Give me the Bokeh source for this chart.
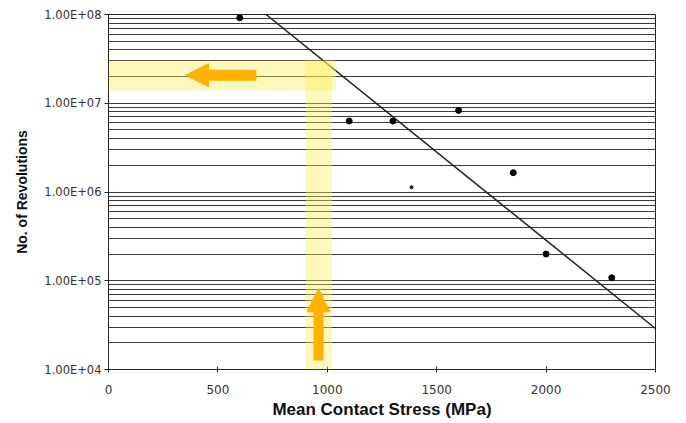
from bokeh.plotting import figure
from bokeh.models import FixedTicker, BoxAnnotation, Arrow, NormalHead, Range1d
from bokeh.embed import file_html
from bokeh.resources import INLINE

# ---- data ----
stress = [600, 1100, 1300, 1385, 1600, 1850, 2000, 2300]
revolutions = [9.2e7, 6.3e6, 6.3e6, 1.13e6, 8.3e6, 1.65e6, 2.0e5, 1.08e5]

fit_stress = [720, 2500]
fit_revs = [1.0e8, 2.9e4]

x_ticks = [0, 500, 1000, 1500, 2000, 2500]
y_ticks = [1e4, 1e5, 1e6, 1e7, 1e8]
y_tick_labels = ["1.00E+04", "1.00E+05", "1.00E+06", "1.00E+07", "1.00E+08"]
y_minor = [m * 10 ** e for e in range(4, 8) for m in range(2, 10)]

# highlight bands (x range, y range)
h_band_x = [0, 1040]
h_band_y = [1.4e7, 3.04e7]
v_band_x = [900, 1022]
v_band_y = [1e4, 3.04e7]

# arrows (start -> end)
left_arrow_x = [676, 352]
left_arrow_y = [2.07e7, 2.07e7]
up_arrow_x = [960, 960]
up_arrow_y = [1.26e4, 8.1e4]

FONT = "Liberation Sans"
TICK_FONT = "DejaVu Sans"

p = figure(width=686, height=423, y_axis_type="log",
           x_range=Range1d(0, 2500), y_range=Range1d(1e4, 1e8),
           output_backend="svg", toolbar_location=None,
           min_border_left=108, min_border_right=31,
           min_border_top=14, min_border_bottom=54)
p.background_fill_color = "white"
p.border_fill_color = "white"
p.outline_line_color = "#222222"
p.outline_line_width = 1

# grid
p.xgrid.grid_line_color = None
p.ygrid.grid_line_color = "#3a3a3a"
p.ygrid.grid_line_width = 1
p.ygrid.minor_grid_line_color = "#3a3a3a"
p.ygrid.minor_grid_line_width = 1

# axes
p.xaxis.ticker = FixedTicker(ticks=x_ticks)
p.yaxis.ticker = FixedTicker(ticks=y_ticks, minor_ticks=y_minor)
p.ygrid.ticker = p.yaxis.ticker
p.yaxis.major_label_overrides = {t: l for t, l in zip(y_ticks, y_tick_labels)}

for ax in (p.xaxis, p.yaxis):
    ax.axis_line_color = "#222222"
    ax.major_tick_line_color = "#222222"
    ax.minor_tick_line_color = None
    ax.major_label_text_font = TICK_FONT
    ax.major_label_text_color = "#333333"
    ax.axis_label_text_font = FONT
    ax.axis_label_text_font_style = "bold"
    ax.axis_label_text_color = "#111111"

p.xaxis.major_label_text_font_size = "12px"
p.yaxis.major_label_text_font_size = "11.5px"
p.xaxis.axis_label_text_font_size = "17px"
p.yaxis.axis_label_text_font_size = "14px"

p.xaxis.major_tick_in = 3
p.xaxis.major_tick_out = 3
p.xaxis.major_label_standoff = 12
p.xaxis.axis_label_standoff = 3
p.yaxis.major_tick_in = 0
p.yaxis.major_tick_out = 4
p.yaxis.major_label_standoff = 3
p.yaxis.axis_label_standoff = 11

p.xaxis.axis_label = "Mean Contact Stress (MPa)"
p.yaxis.axis_label = "No. of Revolutions"

# highlight bands
band_color = "#FFEE58"
p.add_layout(BoxAnnotation(left=h_band_x[0], right=h_band_x[1],
                           bottom=h_band_y[0], top=h_band_y[1],
                           fill_color=band_color, fill_alpha=0.4, line_color=None))
p.add_layout(BoxAnnotation(left=v_band_x[0], right=v_band_x[1],
                           bottom=v_band_y[0], top=v_band_y[1],
                           fill_color=band_color, fill_alpha=0.4, line_color=None))

# trend line and points
p.line(fit_stress, fit_revs, line_color="#222222", line_width=1.5)
sizes = [6, 6, 6, 3, 6, 6, 6, 6]
p.scatter(stress, revolutions, size=sizes, marker="circle",
          fill_color="black", line_color="black")

# arrows
arrow_color = "#FFB300"
p.add_layout(Arrow(end=NormalHead(size=23, fill_color=arrow_color, line_color=arrow_color),
                   x_start=left_arrow_x[0], y_start=left_arrow_y[0],
                   x_end=left_arrow_x[1], y_end=left_arrow_y[1],
                   line_color=arrow_color, line_width=11))
p.add_layout(Arrow(end=NormalHead(size=23, fill_color=arrow_color, line_color=arrow_color),
                   x_start=up_arrow_x[0], y_start=up_arrow_y[0],
                   x_end=up_arrow_x[1], y_end=up_arrow_y[1],
                   line_color=arrow_color, line_width=10))

open("out.html", "w").write(file_html(p, INLINE))
